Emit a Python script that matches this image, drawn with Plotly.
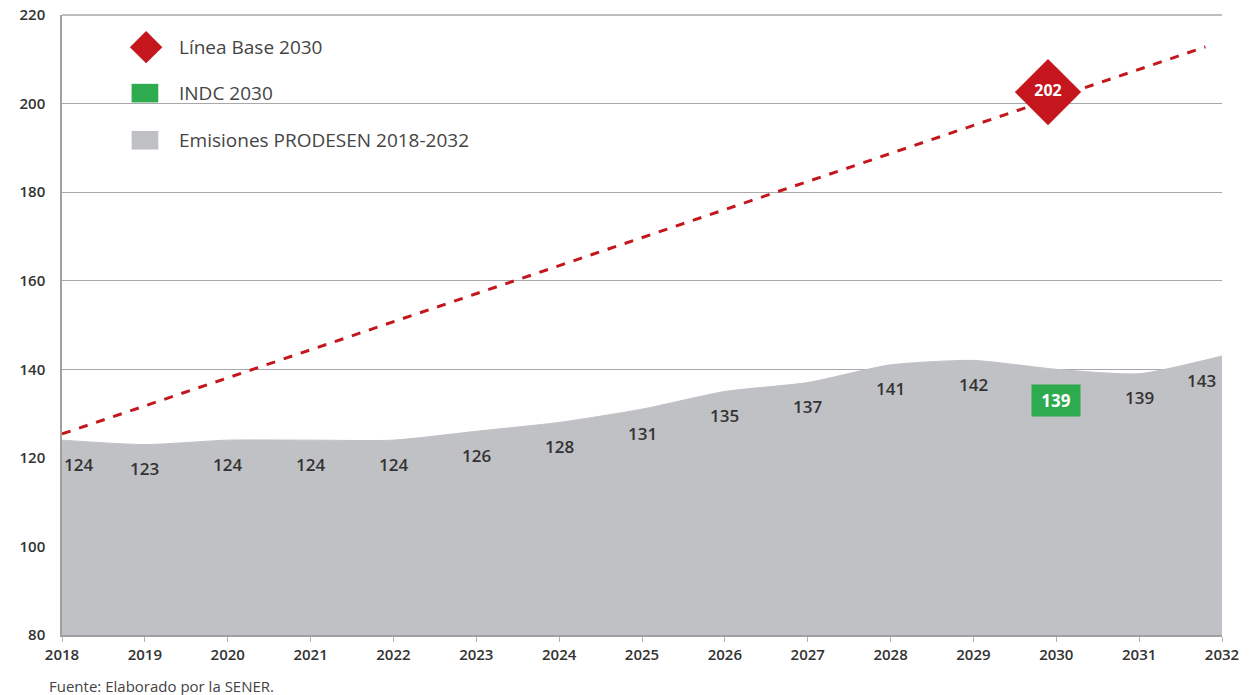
import plotly.graph_objects as go

# Emisiones PRODESEN 2018-2032
years = list(range(2018, 2033))
prodesen = [124, 123, 124, 124, 124, 126, 128, 131, 135, 137, 141, 142, 140, 139, 143]
prodesen_labels = ["124", "123", "124", "124", "124", "126", "128", "131", "135",
                   "137", "141", "142", "", "139", "143"]

# Linea base (tendencia)
baseline_years = [2018.0, 2031.8]
baseline_values = [125.4, 212.8]
baseline_2030_year = 2029.9
baseline_2030_value = 202.6
baseline_2030_label = "202"

# INDC 2030
indc_year = 2030
indc_value = 133
indc_label = "139"

legend_labels = ["Línea Base 2030", "INDC 2030", "Emisiones PRODESEN 2018-2032"]

RED = "#c4161c"
GREEN = "#2eaa4f"
GRAY = "#c0c1c5"
TEXT = "#333333"
FONT = "Open Sans"

fig = go.Figure()

fig.add_trace(
    go.Scatter(
        x=years,
        y=prodesen,
        mode="lines",
        line=dict(color=GRAY, width=1, shape="spline", smoothing=0.6),
        fill="tozeroy",
        fillcolor=GRAY,
        hoverinfo="skip",
        showlegend=False,
    )
)

fig.add_trace(
    go.Scatter(
        x=baseline_years,
        y=baseline_values,
        mode="lines",
        line=dict(color=RED, width=3, dash="dash"),
        showlegend=False,
    )
)

fig.add_trace(
    go.Scatter(
        x=[baseline_2030_year],
        y=[baseline_2030_value],
        mode="markers+text",
        marker=dict(symbol="diamond", size=51, color=RED, line=dict(width=0)),
        text=[baseline_2030_label],
        textposition="middle center",
        textfont=dict(family=FONT, size=16, color="white", weight="bold"),
        showlegend=False,
    )
)

# data labels under the area edge
for i, (yr, val, lab) in enumerate(zip(years, prodesen, prodesen_labels)):
    if not lab:
        continue
    if i == 0:
        anchor, xs = "left", 0
    elif i == len(years) - 1:
        anchor, xs = "right", -4
    else:
        anchor, xs = "center", 0
    fig.add_annotation(
        x=yr, y=val, text=lab, showarrow=False,
        xanchor=anchor, xshift=xs, yshift=-24,
        font=dict(family=FONT, size=17, color=TEXT, weight=600),
    )

fig.add_annotation(
    x=indc_year, y=indc_value, text="<b>" + indc_label + "</b>", showarrow=False,
    bgcolor=GREEN, width=48, height=31, borderpad=0,
    font=dict(family=FONT, size=17, color="white"),
)

# legend drawn by hand (top-left, inside the plot)
legend_y = [0.948, 0.874, 0.798]
shapes = [
    dict(type="path", xref="paper", yref="paper",
         path="M 0.0725 0.974 L 0.0865 0.948 L 0.0725 0.922 L 0.0585 0.948 Z",
         fillcolor=RED, line=dict(width=0)),
    dict(type="rect", xref="paper", yref="paper", x0=0.060, x1=0.083,
         y0=legend_y[1] - 0.015, y1=legend_y[1] + 0.015,
         fillcolor=GREEN, line=dict(width=0)),
    dict(type="rect", xref="paper", yref="paper", x0=0.060, x1=0.083,
         y0=legend_y[2] - 0.015, y1=legend_y[2] + 0.015,
         fillcolor="#bfc0c4", line=dict(width=0)),
    # top border at 220
    dict(type="line", xref="paper", yref="paper", x0=0, x1=1, y0=1, y1=1,
         line=dict(color="#a8a8ab", width=1.5)),
]
for lab, ly in zip(legend_labels, legend_y):
    fig.add_annotation(
        xref="paper", yref="paper", x=0.099, y=ly, text=lab, showarrow=False,
        xanchor="left", yanchor="middle",
        font=dict(family=FONT, size=19, color="#444444"),
    )

fig.add_annotation(
    xref="paper", yref="paper", x=-0.013, y=-0.082, text="Fuente: Elaborado por la SENER.",
    showarrow=False, xanchor="left", yanchor="middle",
    font=dict(family=FONT, size=15, color="#444444"),
)

fig.update_layout(
    width=1250,
    height=695,
    margin=dict(l=62, r=28, t=15, b=60),
    paper_bgcolor="white",
    plot_bgcolor="white",
    shapes=shapes,
    showlegend=False,
    font=dict(family=FONT, color=TEXT),
)
fig.update_xaxes(
    range=[2018, 2032],
    tickvals=years,
    ticks="outside",
    ticklen=5,
    tickcolor="#b0b0b0",
    showgrid=False,
    showline=True,
    linecolor="#a0a0a0",
    linewidth=1.5,
    zeroline=False,
    automargin=False,
    tickfont=dict(family=FONT, size=15, color=TEXT, weight=600),
)
fig.update_yaxes(
    range=[80, 220],
    dtick=20,
    showgrid=True,
    gridcolor="#a8a8ab",
    gridwidth=1.2,
    showline=True,
    linecolor="#a0a0a0",
    linewidth=1.5,
    zeroline=False,
    automargin=False,
    ticks="",
    ticklabelstandoff=12,
    tickfont=dict(family=FONT, size=15, color=TEXT, weight=600),
)

fig.write_html(
    "out.html",
    config={"displayModeBar": False},
    post_script="document.body.style.margin='0px';",
)
